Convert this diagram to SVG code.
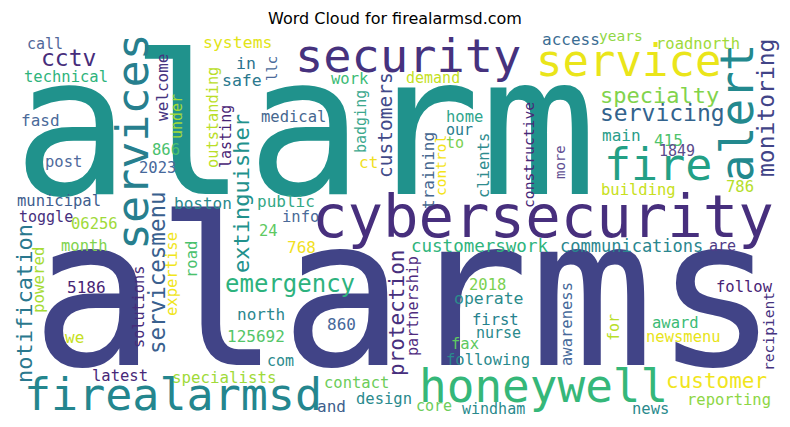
<svg xmlns="http://www.w3.org/2000/svg" width="790" height="427" viewBox="0 0 790 427">
<style>
text{font-family:"DejaVu Sans Mono","Liberation Mono",monospace;}
.t{font-family:"DejaVu Sans","Liberation Sans",sans-serif;font-size:16px;fill:#000;}
</style>
<rect width="790" height="427" fill="#fff"/>
<text class="t" x="395" y="24" text-anchor="middle">Word Cloud for firealarmsd.com</text>
<g id="cloud">
<!-- big words -->
<text x="13" y="194" font-size="194" fill="#20928c">alarm</text>
<text x="31" y="365" font-size="207" fill="#414487">alarms</text>
<text x="312" y="237" font-size="59" fill="#472f7d">cybersecurity</text>
<text x="295" y="72" font-size="47" fill="#46327e">security</text>
<text x="536" y="76" font-size="44" fill="#eae51a">service</text>
<text x="604" y="180" font-size="45" fill="#23a085">fire</text>
<text x="419" y="402" font-size="46" fill="#35b779">honeywell</text>
<text x="24" y="410" font-size="45" fill="#24868e">firealarmsd</text>
<text transform="translate(148,250) rotate(-90)" font-size="45" fill="#277f8e">services</text>
<text transform="translate(753,182) rotate(-90)" font-size="46" fill="#23898e">alert</text>
<!-- medium words -->
<text x="600" y="103" font-size="22" fill="#82d34c">specialty</text>
<text x="600" y="121" font-size="23" fill="#33638d">servicing</text>
<text x="225" y="292" font-size="24" fill="#2db27d">emergency</text>
<text x="666" y="388" font-size="21" fill="#f1e51d">customer</text>
<text x="41" y="66" font-size="23" fill="#472d7b">cctv</text>
<text x="560" y="252" font-size="17" fill="#2a868e">communications</text>
<text x="411" y="252" font-size="17.5" fill="#2fb47c">customerswork</text>
<text transform="translate(249,273) rotate(-90)" font-size="22" fill="#21918c">extinguisher</text>
<text transform="translate(32,383) rotate(-90)" font-size="22" fill="#2a788e">notification</text>
<text transform="translate(165,354) rotate(-90)" font-size="22.5" fill="#39608e">servicesmenu</text>
<text transform="translate(404,376) rotate(-90)" font-size="21" fill="#472f7d">protection</text>
<text transform="translate(392,178) rotate(-90)" font-size="19.5" fill="#414a89">customers</text>
<text transform="translate(774,177) rotate(-90)" font-size="23" fill="#414487">monitoring</text>
<!-- small horizontal words -->
<text x="27" y="49" font-size="15" fill="#52689a">call</text>
<text x="24" y="82" font-size="15.5" fill="#2fb47c">technical</text>
<text x="203" y="48" font-size="16.5" fill="#e2e418">systems</text>
<text x="236" y="69" font-size="16.5" fill="#2c728e">in</text>
<text x="222" y="86" font-size="16.5" fill="#2a788e">safe</text>
<text x="21" y="126" font-size="16" fill="#4a6a9a">fasd</text>
<text x="45" y="167" font-size="15.5" fill="#4f6a9c">post</text>
<text x="152" y="155" font-size="15.5" fill="#4ac16d">866</text>
<text x="139" y="173" font-size="15.5" fill="#46689a">2023</text>
<text x="17" y="206" font-size="15.5" fill="#3f5e8e">municipal</text>
<text x="174" y="209" font-size="16" fill="#2a898d">boston</text>
<text x="257" y="207" font-size="16" fill="#34a886">public</text>
<text x="261" y="122" font-size="15.5" fill="#46678f">medical</text>
<text x="19" y="222" font-size="15" fill="#472f7d">toggle</text>
<text x="71" y="229" font-size="15.5" fill="#9fda3a">06256</text>
<text x="259" y="236" font-size="15.5" fill="#5ec962">24</text>
<text x="282" y="222" font-size="15.5" fill="#4a6a98">info</text>
<text x="287" y="253" font-size="16" fill="#f2e11f">768</text>
<text x="61" y="251" font-size="15.5" fill="#7fd34e">month</text>
<text x="67" y="293" font-size="16" fill="#482475">5186</text>
<text x="65" y="343" font-size="16" fill="#c5e021">we</text>
<text x="92" y="381" font-size="15.5" fill="#482878">latest</text>
<text x="172" y="383" font-size="15.8" fill="#a0da39">specialists</text>
<text x="237" y="320" font-size="16" fill="#2a878e">north</text>
<text x="227" y="342" font-size="16" fill="#54c568">125692</text>
<text x="267" y="366" font-size="15" fill="#2a8a8d">com</text>
<text x="327" y="330" font-size="16" fill="#46689a">860</text>
<text x="469" y="290" font-size="15.5" fill="#7ad151">2018</text>
<text x="454" y="304" font-size="16.5" fill="#2b8c8c">operate</text>
<text x="472" y="325" font-size="15.5" fill="#26828e">first</text>
<text x="476" y="338" font-size="15" fill="#2a8a8d">nurse</text>
<text x="451" y="349" font-size="15.5" fill="#5ec962">fax</text>
<text x="446" y="365" font-size="15.5" fill="#2a8a8d">following</text>
<text x="324" y="388" font-size="15.5" fill="#6ccd5a">contact</text>
<text x="317" y="412" font-size="16" fill="#3e5f8d">and</text>
<text x="356" y="404" font-size="15.5" fill="#2a8a8d">design</text>
<text x="416" y="411" font-size="15" fill="#6ccd5a">core</text>
<text x="462" y="414" font-size="15" fill="#2a8a8d">windham</text>
<text x="652" y="328" font-size="15.5" fill="#3cbb75">award</text>
<text x="646" y="342" font-size="15.5" fill="#e8e419">newsmenu</text>
<text x="716" y="292" font-size="15.5" fill="#482475">follow</text>
<text x="687" y="405" font-size="15.5" fill="#8dd645">reporting</text>
<text x="632" y="414" font-size="15.5" fill="#2a8a8d">news</text>
<text x="709" y="251" font-size="15" fill="#4f3c87">are</text>
<text x="331" y="84" font-size="15.5" fill="#3bbb75">work</text>
<text x="406" y="83" font-size="15" fill="#c4df23">demand</text>
<text x="359" y="168" font-size="16" fill="#f0e01f">ct</text>
<text x="446" y="122" font-size="15.5" fill="#2fa58c">home</text>
<text x="446" y="135" font-size="15" fill="#287d8e">our</text>
<text x="446" y="148" font-size="15" fill="#7ad151">to</text>
<text x="542" y="45" font-size="16" fill="#3b6d93">access</text>
<text x="599" y="41" font-size="14.5" fill="#8fd744">years</text>
<text x="656" y="49" font-size="15.5" fill="#a0da39">roadnorth</text>
<text x="602" y="141" font-size="16" fill="#2a9d89">main</text>
<text x="654" y="146" font-size="16" fill="#4ec36b">415</text>
<text x="659" y="156" font-size="15" fill="#5b4b8c">1849</text>
<text x="601" y="195" font-size="15.5" fill="#c8e020">building</text>
<text x="726" y="192" font-size="15.5" fill="#b5de2b">786</text>
<!-- small vertical words -->
<text transform="translate(168,121) rotate(-90)" font-size="16" fill="#46337f">welcome</text>
<text transform="translate(182,139) rotate(-90)" font-size="15" fill="#a2da37">under</text>
<text transform="translate(218,168) rotate(-90)" font-size="15.3" fill="#bade28">outstanding</text>
<text transform="translate(231,168) rotate(-90)" font-size="15" fill="#482576">lasting</text>
<text transform="translate(44,313) rotate(-90)" font-size="15.8" fill="#a6db35">powered</text>
<text transform="translate(144,348) rotate(-90)" font-size="15.2" fill="#472d7b">solutions</text>
<text transform="translate(177,316) rotate(-90)" font-size="15.5" fill="#f0e51c">expertise</text>
<text transform="translate(197,278) rotate(-90)" font-size="15.5" fill="#4ac16d">road</text>
<text transform="translate(418,356) rotate(-90)" font-size="15.1" fill="#4f2b7e">partnership</text>
<text transform="translate(366,153) rotate(-90)" font-size="15" fill="#3ca88d">badging</text>
<text transform="translate(434,209) rotate(-90)" font-size="16" fill="#46678f">training</text>
<text transform="translate(446,196) rotate(-90)" font-size="14.5" fill="#f4e41a">control</text>
<text transform="translate(489,198) rotate(-90)" font-size="15.5" fill="#2f8c8e">clients</text>
<text transform="translate(534,208) rotate(-90)" font-size="14.7" fill="#482878">constructive</text>
<text transform="translate(565,179) rotate(-90)" font-size="14" fill="#5f4f92">more</text>
<text transform="translate(277,81) rotate(-90)" font-size="14" fill="#4b6a9a">llc</text>
<text transform="translate(572,366) rotate(-90)" font-size="15.5" fill="#46699a">awareness</text>
<text transform="translate(619,341) rotate(-90)" font-size="15" fill="#b8de29">for</text>
<text transform="translate(774,371) rotate(-90)" font-size="14.6" fill="#46337f">recipient</text>
</g>
</svg>
